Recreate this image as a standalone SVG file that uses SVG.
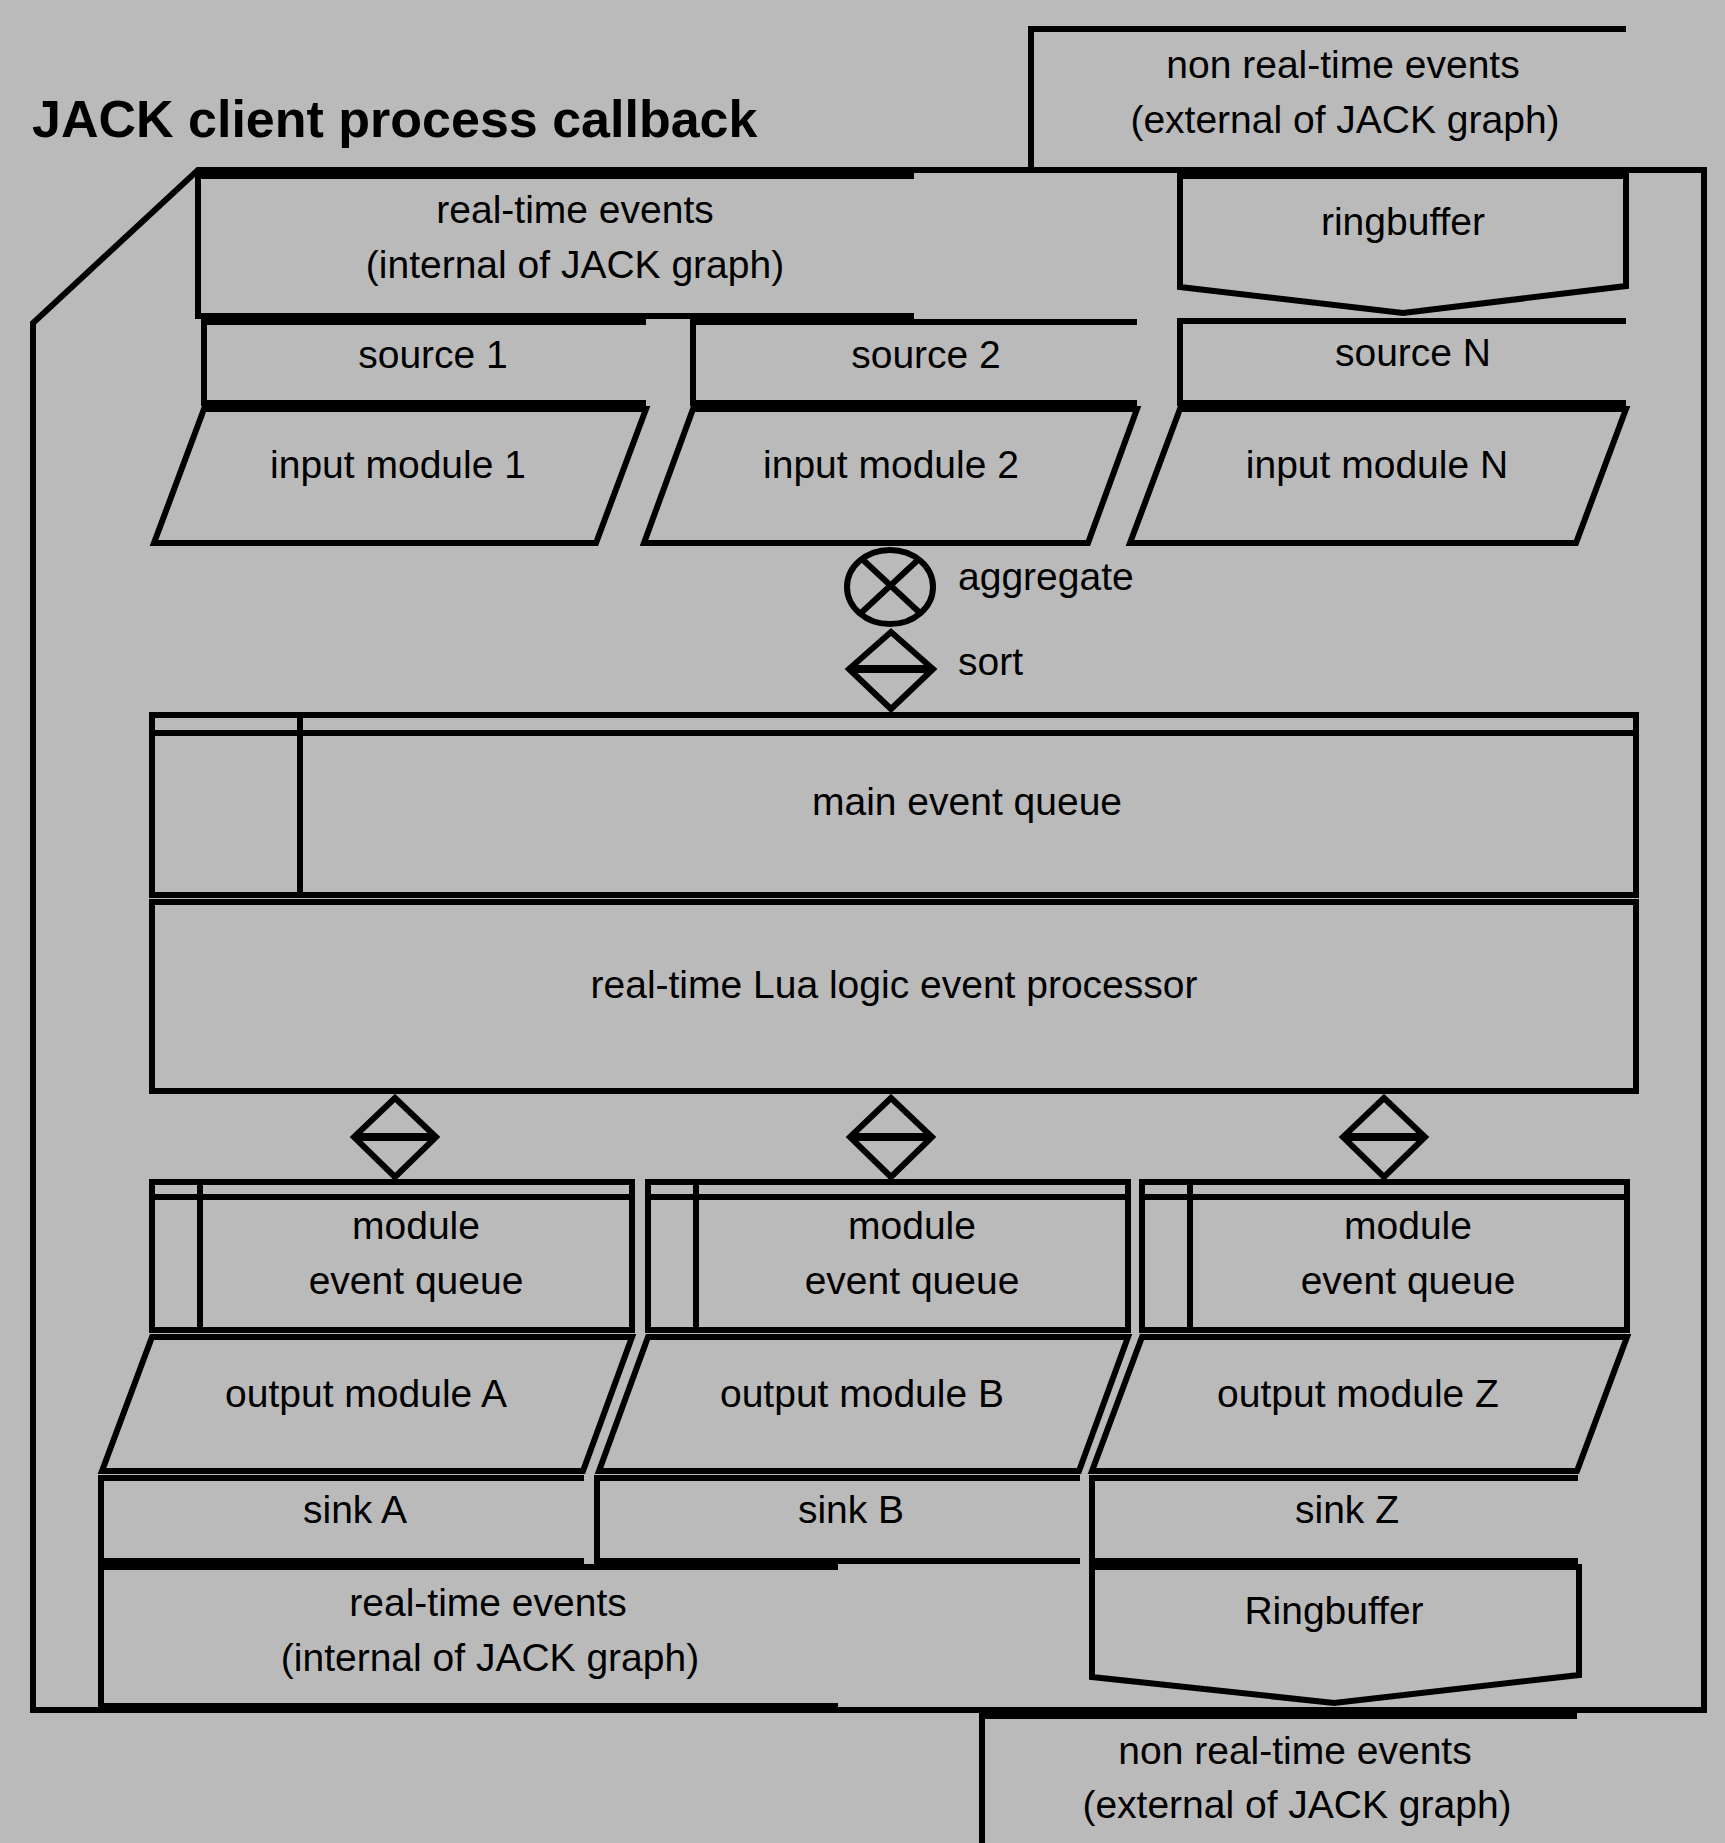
<svg xmlns="http://www.w3.org/2000/svg" width="1725" height="1843" viewBox="0 0 1725 1843">
<style>
.s{fill:none;stroke:#000;stroke-width:6;stroke-linejoin:miter;stroke-miterlimit:10}
.t{font-family:"Liberation Sans",Arial,sans-serif;font-size:39px;fill:#000;text-anchor:middle}
.l{font-family:"Liberation Sans",Arial,sans-serif;font-size:39px;fill:#000}
.h{font-family:"Liberation Sans",Arial,sans-serif;font-size:52px;font-weight:bold;fill:#000}
</style>
<rect x="0" y="0" width="1725" height="1843" fill="#bababa"/>

<g id="frame">
<path class="s" d="M198 170 L1704 170 L1704 1710 L33 1710 L33 323 Z"/>
<text class="h" x="32" y="137">JACK client process callback</text>
</g>

<g id="nrt-in">
<path class="s" d="M1626 29 L1031 29 L1031 170"/>
<text class="t" x="1343" y="78">non real-time events</text>
<text class="t" x="1345" y="133">(external of JACK graph)</text>
</g>

<g id="rt-in">
<path class="s" d="M914 176 L198 176 L198 316 L914 316"/>
<text class="t" x="575" y="223">real-time events</text>
<text class="t" x="575" y="278">(internal of JACK graph)</text>
</g>

<g id="ringbuffer-in">
<path class="s" d="M1180 176 L1626 176 L1626 286 L1403 313 L1180 287 Z"/>
<text class="t" x="1403" y="235">ringbuffer</text>
</g>

<g id="source1">
<path class="s" d="M646 322 L204 322 L204 403 L646 403"/>
<text class="t" x="433" y="368">source 1</text>
</g>
<g id="source2">
<path class="s" d="M1137 322 L693 322 L693 403 L1137 403"/>
<text class="t" x="926" y="368">source 2</text>
</g>
<g id="sourceN">
<path class="s" d="M1626 321 L1180 321 L1180 403 L1626 403"/>
<text class="t" x="1413" y="366">source N</text>
</g>

<g id="input1">
<path class="s" d="M204 409 L646 409 L596 543 L154 543 Z"/>
<text class="t" x="398" y="478">input module 1</text>
</g>
<g id="input2">
<path class="s" d="M693 409 L1137 409 L1088 543 L644 543 Z"/>
<text class="t" x="891" y="478">input module 2</text>
</g>
<g id="inputN">
<path class="s" d="M1180 409 L1626 409 L1576 543 L1130 543 Z"/>
<text class="t" x="1377" y="478">input module N</text>
</g>

<g id="aggregate">
<ellipse class="s" cx="890" cy="587" rx="43" ry="37"/>
<path class="s" d="M861 558 L920 613 M920 558 L861 613"/>
<text class="l" x="958" y="590">aggregate</text>
</g>

<g id="sort">
<path class="s" d="M891 632 L933 669 L891 709 L849 669 Z"/>
<path class="s" style="stroke-width:8" d="M849 669 L933 669"/>
<text class="l" x="958" y="675">sort</text>
</g>

<g id="main-queue">
<path class="s" d="M152 715 L1636 715 L1636 895 L152 895 Z M152 733 L1636 733 M300 715 L300 895"/>
<text class="t" x="967" y="815">main event queue</text>
</g>

<g id="processor">
<path class="s" d="M152 902 L1636 902 L1636 1091 L152 1091 Z"/>
<text class="t" x="894" y="998">real-time Lua logic event processor</text>
</g>

<g id="sortA">
<path class="s" d="M395 1098 L436 1137 L395 1177 L354 1137 Z"/>
<path class="s" style="stroke-width:8" d="M354 1137 L436 1137"/>
</g>
<g id="sortB">
<path class="s" d="M891 1098 L932 1137 L891 1177 L850 1137 Z"/>
<path class="s" style="stroke-width:8" d="M850 1137 L932 1137"/>
</g>
<g id="sortZ">
<path class="s" d="M1384 1098 L1425 1137 L1384 1177 L1343 1137 Z"/>
<path class="s" style="stroke-width:8" d="M1343 1137 L1425 1137"/>
</g>

<g id="queueA">
<path class="s" d="M152 1182 L632 1182 L632 1330 L152 1330 Z M152 1197 L632 1197 M200 1182 L200 1330"/>
<text class="t" x="416" y="1239">module</text>
<text class="t" x="416" y="1294">event queue</text>
</g>
<g id="queueB">
<path class="s" d="M648 1182 L1128 1182 L1128 1330 L648 1330 Z M648 1197 L1128 1197 M696 1182 L696 1330"/>
<text class="t" x="912" y="1239">module</text>
<text class="t" x="912" y="1294">event queue</text>
</g>
<g id="queueZ">
<path class="s" d="M1142 1182 L1627 1182 L1627 1330 L1142 1330 Z M1142 1197 L1627 1197 M1190 1182 L1190 1330"/>
<text class="t" x="1408" y="1239">module</text>
<text class="t" x="1408" y="1294">event queue</text>
</g>

<g id="outputA">
<path class="s" d="M152 1337 L632 1337 L583 1471 L102 1471 Z"/>
<text class="t" x="366" y="1407">output module A</text>
</g>
<g id="outputB">
<path class="s" d="M648 1337 L1128 1337 L1079 1471 L599 1471 Z"/>
<text class="t" x="862" y="1407">output module B</text>
</g>
<g id="outputZ">
<path class="s" d="M1142 1337 L1627 1337 L1577 1471 L1092 1471 Z"/>
<text class="t" x="1358" y="1407">output module Z</text>
</g>

<g id="sinkA">
<path class="s" d="M584 1478 L101 1478 L101 1561 L584 1561"/>
<text class="t" x="355" y="1523">sink A</text>
</g>
<g id="sinkB">
<path class="s" d="M1080 1478 L597 1478 L597 1561 L1080 1561"/>
<text class="t" x="851" y="1523">sink B</text>
</g>
<g id="sinkZ">
<path class="s" d="M1578 1478 L1092 1478 L1092 1561 L1578 1561"/>
<text class="t" x="1347" y="1523">sink Z</text>
</g>

<g id="rt-out">
<path class="s" d="M838 1567 L101 1567 L101 1706 L838 1706"/>
<text class="t" x="488" y="1616">real-time events</text>
<text class="t" x="490" y="1671">(internal of JACK graph)</text>
</g>

<g id="ringbuffer-out">
<path class="s" d="M1092 1567 L1579 1567 L1579 1675 L1334 1703 L1092 1677 Z"/>
<text class="t" x="1334" y="1624">Ringbuffer</text>
</g>

<g id="nrt-out">
<path class="s" d="M1577 1716 L982 1716 L982 1843"/>
<text class="t" x="1295" y="1764">non real-time events</text>
<text class="t" x="1297" y="1818">(external of JACK graph)</text>
</g>

<g id="connectors"/>
</svg>
